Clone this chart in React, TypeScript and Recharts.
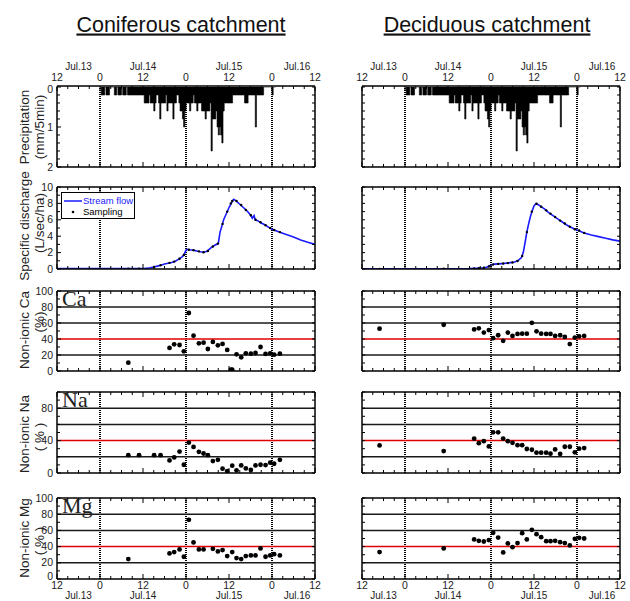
import React from "react";
import {
  ComposedChart,
  Area,
  Line,
  Scatter,
  XAxis,
  YAxis,
  ReferenceLine,
  Legend,
} from "recharts";

// time axis: hours after Jul.14 0:00
const hourTicks = [-12, -9, -6, -3, 0, 3, 6, 9, 12, 15, 18, 21, 24, 27, 30, 33, 36, 39, 42, 45, 48, 51, 54, 57, 60];
const dayTicks = [-6, 12, 36, 55];
const dayLabels = ["Jul.13", "Jul.14", "Jul.15", "Jul.16"];

// precipitation (mm/5min), 20-minute steps from Jul.14 0:00, 3 per hour
const rain = [
  0, 0.2, 0.2, 0.2, 0, 0.2, 0.2, 0.2, 0, 0, 0, 0,
  0.2, 0.2, 0, 0.2, 0.2, 0.2, 0, 0.2, 0.2, 0.2, 0, 0.2,
  0.2, 0.2, 0.2, 0.2, 0.2, 0.2, 0.2, 0.2, 0.2, 0.2, 0.2, 0.2,
  0.2, 0.4, 0.4, 0.4, 0.4, 0.2, 0.4, 0.4, 0.4, 0.6, 0.4, 0.2,
  0.2, 0.4, 0.8, 0.4, 0.4, 0.4, 0.4, 0.2, 0.6, 0.4, 0.4, 0.4,
  0.4, 0.8, 0.4, 0.4, 0.2, 0.2, 0.4, 0.6, 0.6, 0.8, 1.0, 0.6,
  0.4, 0.4, 0.4, 0.6, 0.4, 0.4, 0.2, 0.4, 0.4, 0.6, 0.4, 0.4,
  0.4, 0.6, 0.6, 0.6, 0.8, 0.6, 0.6, 0.6, 0.4, 1.6, 0.8, 0.8,
  0.8, 0.6, 1.0, 1.2, 1.0, 1.2, 1.4, 0.6, 0.4, 0.4, 0.4, 0.4,
  0.4, 0.4, 0.4, 0.2, 0.2, 0.2, 0.2, 0.2, 0.2, 0.2, 0.2, 0.2,
  0.2, 0.4, 0.4, 0.4, 0.2, 0.2, 0.2, 0.2, 0.2, 0.2, 1.0, 0.2,
  0.2, 0.2, 0.2, 0.2, 0.2, 0, 0, 0, 0, 0, 0, 0,
  0.2, 0, 0,
];

// specific discharge (L/sec/ha)
const conFlowHours = [-12, 0, 6, 12, 13, 14, 15, 16, 17, 18, 19, 20, 21, 22, 23, 23.5, 24, 24.5, 25, 26, 27, 28, 29, 30, 31, 32, 33, 33.5, 34, 34.5, 35, 36, 37, 37.3, 38, 39, 40, 41, 42, 42.5, 43, 43.3, 44, 45, 46, 47, 48, 50, 52, 54, 56, 58, 60];
const conFlow = [0.05, 0.05, 0.05, 0.05, 0.1, 0.15, 0.25, 0.35, 0.45, 0.6, 0.7, 0.8, 0.95, 1.2, 1.5, 1.8, 2.3, 2.4, 2.35, 2.3, 2.2, 2.1, 2.05, 2.2, 2.6, 2.9, 3.1, 4.5, 5.2, 6.0, 6.5, 7.5, 8.3, 8.5, 8.3, 7.9, 7.5, 7.1, 6.6, 6.2, 6.5, 6.0, 5.9, 5.6, 5.4, 5.1, 4.85, 4.5, 4.2, 3.9, 3.55, 3.25, 3.0];
const decFlowHours = [-12, 18, 20, 22, 23, 24, 25, 27, 29, 30.5, 31.5, 32.5, 33, 33.5, 34, 34.5, 35, 35.5, 36, 36.5, 37, 38, 39, 40, 41, 42, 43, 44, 45, 46, 47, 48, 50, 52, 54, 56, 58, 60];
const decFlow = [0.02, 0.05, 0.1, 0.15, 0.25, 0.5, 0.6, 0.65, 0.75, 0.85, 1.0, 1.4, 2.0, 3.2, 4.5, 5.5, 6.4, 7.1, 7.7, 7.95, 7.9, 7.6, 7.3, 6.9, 6.6, 6.3, 6.0, 5.7, 5.4, 5.15, 4.95, 4.75, 4.4, 4.15, 3.95, 3.75, 3.55, 3.4];

// water sampling, coniferous catchment
const conSampleHours = [7.9, 10.9, 15.1, 16.9, 19.4, 20.7, 22.2, 23.4, 24.8, 26.1, 27.6, 28.9, 30.1, 31.5, 32.9, 34.2, 35.5, 36.5, 36.9, 38.1, 39.4, 40.7, 42.1, 43.4, 44.8, 46.2, 47.5, 48.6, 50.2];
const conSampleFlow = [0.05, 0.05, 0.25, 0.45, 0.75, 0.9, 1.25, 1.7, 2.35, 2.3, 2.15, 2.05, 2.2, 2.75, 3.1, 5.5, 7.0, 8.0, 8.3, 8.3, 7.8, 7.2, 6.55, 6.0, 5.7, 5.35, 5.0, 4.75, 4.5];
const conCa = [10.4, null, null, null, 28.8, 33.3, 32.5, 24.6, 72.5, 44.2, 34.6, 35.4, 27.5, 36.3, 32.1, 33.8, 26.3, 1.7, 1.7, 20.8, 17.1, 22.1, 21.7, 22.5, 30, 21.3, 22.1, 20.4, 21.7];
const conNa = [22, 22, 22, 22, 15.5, 19.2, 26.5, 10.2, 37.6, 32.2, 26.1, 24.1, 22, 14.7, 16.3, 5.3, 2.4, null, 9, 3.3, 9.4, 5.7, 3.7, 9.4, 10.2, 9.8, 12.7, 11.4, 16.3];
const conMg = [24.6, null, null, null, 31.6, 33.2, 36.5, 27.5, 73, 45.1, 36.5, 36.5, null, 37.3, 34, 35.7, 28.3, null, 33.2, 25.8, 24.6, 28.3, 29.1, 29.1, 37.7, 27.5, 29.1, 30.7, 29.1];

// water sampling, deciduous catchment
const decSampleHours = [-7.1, 10.8, 19.3, 20.6, 22, 23.4, 24.6, 26, 27.4, 28.7, 30, 31.4, 32.7, 34, 35.4, 36.7, 38, 39.4, 40.6, 41.9, 43.3, 44.6, 46, 47.4, 48.6, 50];
const decSampleFlow = [0.02, 0.03, 0.08, 0.1, 0.15, 0.3, 0.55, 0.62, 0.67, 0.72, 0.8, 0.98, 1.6, 4.5, 7.0, 7.95, 7.6, 7.15, 6.75, 6.35, 5.9, 5.55, 5.15, 4.85, 4.7, 4.4];
const decCa = [52.9, 57.8, 52, 53.3, 48, 51.2, 41, 44.7, 37.7, 48, 43.9, 46.3, 46.7, 46.7, 60.2, 49.6, 46.7, 46.3, 46.3, 43.9, 44.7, 42.6, 33.6, 41.8, 43.4, 43.9];
const decNa = [34, 27.1, 42.5, 36.8, 39.3, 32.8, 50.2, 50.2, 42.5, 39.3, 37.2, 34.4, 34.4, 29.6, 28.7, 25.1, 25.1, 25.1, 23.9, 29.1, 23.5, 32.4, 32.4, 25.5, 30, 30.8];
const decMg = [33.2, 37.7, 48.8, 47.1, 46.3, 48, 57, 51.2, 32.8, 43.9, 39.3, 44.3, 56.6, 48.8, 60.7, 55.3, 51.6, 46.7, 46.7, 47.1, 45.5, 44.3, 41.4, 49.6, 50.8, 50];

// each 20-min step starts at i/3 h; a closing 0 ends the last step
const rainData = [...rain, 0].map((p, i) => ({ h: i / 3, p }));
const pairs = (hours: number[], vals: (number | null)[]) =>
  hours.map((h, i) => ({ h, v: vals[i] })).filter((d) => d.v != null);

const FONT = "'Liberation Sans', Arial, sans-serif";
const PLOT_W = 258;
const PAD = { top: 30, right: 10, bottom: 25, left: 30 };
const COLS = [57, 362];
const ROWS = {
  rain: { top: 87, h: 80 },
  flow: { top: 187, h: 82 },
  ca: { top: 291, h: 80 },
  na: { top: 392, h: 81 },
  mg: { top: 498, h: 81 },
};

const XTick = (p: any) => {
  const { x, y, payload, side, labels } = p;
  const h = payload.value;
  const major = h % 12 === 0;
  const d = side === "bottom" ? -1 : 1;
  return (
    <g>
      <line x1={x} x2={x} y1={y} y2={y + d * (major ? 5 : 3)} stroke="#000" strokeWidth={1} />
      {labels && major && (
        <text x={x} y={side === "bottom" ? y + 9.5 : y - 5} textAnchor="middle" fontSize={10.5} fontFamily={FONT} fill="#222">
          {h % 24 === 0 ? "0" : "12"}
        </text>
      )}
    </g>
  );
};

const DayTick = (p: any) => {
  const { x, y, payload, side } = p;
  return (
    <text x={x} y={side === "bottom" ? y + 18.5 : y - 17.5} textAnchor="middle" fontSize={10} fontFamily={FONT} fill="#222">
      {dayLabels[dayTicks.indexOf(payload.value)]}
    </text>
  );
};

// corner labels ("0" next to the hour labels) are nudged away from them
const YTick = (p: any) => {
  const { x, y, payload, side, labels, corner } = p;
  const d = side === "left" ? 1 : -1;
  const lab = labels && labels.includes(payload.value);
  let dy = 3.5;
  if (corner === "top" && payload.value === 0) dy = 5.5;
  if (corner === "bottom" && payload.value === 0) dy = 0.5;
  return (
    <g>
      <line x1={x} x2={x + d * (lab ? 4 : 3)} y1={y} y2={y} stroke="#000" strokeWidth={1} />
      {lab && (
        <text x={x - 4} y={y + dy} textAnchor="end" fontSize={10.5} fontFamily={FONT} fill="#222">
          {payload.value}
        </text>
      )}
    </g>
  );
};

type FrameOpts = {
  domain: [number, number];
  ticks: number[];
  labels: number[] | null;
  reversed?: boolean;
  top?: boolean;
  bottom?: boolean;
};

const axisLine = { stroke: "#000", strokeWidth: 1.5 };

// every axis gets a 1px box (Recharts skips axes of size 0)
function frame(o: FrameOpts) {
  const corner = o.top ? "top" : o.bottom ? "bottom" : null;
  const els: any[] = [
    <XAxis key="xb" xAxisId="b" type="number" dataKey="h" domain={[-12, 60]} allowDataOverflow ticks={hourTicks} interval={0} height={1} tickSize={0} tickMargin={0} tickLine={false} axisLine={axisLine} tick={(p: any) => <XTick {...p} side="bottom" labels={o.bottom} />} />,
    <XAxis key="xt" xAxisId="t" orientation="top" type="number" dataKey="h" domain={[-12, 60]} allowDataOverflow ticks={hourTicks} interval={0} height={1} tickSize={0} tickMargin={0} tickLine={false} axisLine={axisLine} tick={(p: any) => <XTick {...p} side="top" labels={o.top} />} />,
    <YAxis key="yl" yAxisId="l" type="number" domain={o.domain} reversed={o.reversed} allowDataOverflow ticks={o.ticks} interval={0} width={1} tickSize={0} tickMargin={0} tickLine={false} axisLine={axisLine} tick={(p: any) => <YTick {...p} side="left" labels={o.labels} corner={corner} />} />,
    <YAxis key="yr" yAxisId="r" orientation="right" type="number" domain={o.domain} reversed={o.reversed} allowDataOverflow ticks={o.ticks} interval={0} width={1} tickSize={0} tickMargin={0} tickLine={false} axisLine={axisLine} tick={(p: any) => <YTick {...p} side="right" labels={null} />} />,
  ];
  if (o.top)
    els.push(<XAxis key="dt" xAxisId="dt" orientation="top" type="number" dataKey="h" domain={[-12, 60]} allowDataOverflow ticks={dayTicks} interval={0} height={1} tickSize={0} tickMargin={0} tickLine={false} axisLine={false} tick={(p: any) => <DayTick {...p} side="top" />} />);
  if (o.bottom)
    els.push(<XAxis key="db" xAxisId="db" type="number" dataKey="h" domain={[-12, 60]} allowDataOverflow ticks={dayTicks} interval={0} height={1} tickSize={0} tickMargin={0} tickLine={false} axisLine={false} tick={(p: any) => <DayTick {...p} side="bottom" />} />);
  [0, 24, 48].forEach((h) =>
    els.push(<ReferenceLine key={"v" + h} xAxisId="b" yAxisId="l" x={h} stroke="#000" strokeWidth={2} strokeDasharray="1 1" />)
  );
  return els;
}

function grid() {
  return [
    ...[20, 60, 80].map((v) => (
      <ReferenceLine key={"g" + v} xAxisId="b" yAxisId="l" y={v} stroke="#1a1a1a" strokeWidth={1.5} />
    )),
    <ReferenceLine key="red" xAxisId="b" yAxisId="l" y={40} stroke="#e00000" strokeWidth={1.5} />,
  ];
}

const dot = (r: number) => (p: any) => <circle cx={p.cx} cy={p.cy} r={r} fill="#000" />;

function panel(key: string, col: number, row: { top: number; h: number }, children: any[], top: boolean, bottom: boolean, data?: any[]) {
  const nTop = top ? 2 : 1;
  const nBottom = bottom ? 2 : 1;
  const margin = { top: PAD.top - nTop, right: PAD.right - 1, bottom: PAD.bottom - nBottom, left: PAD.left - 1 };
  return (
    <div key={key} style={{ position: "absolute", left: COLS[col] - PAD.left, top: row.top - PAD.top }}>
      <ComposedChart width={PLOT_W + PAD.left + PAD.right} height={row.h + PAD.top + PAD.bottom} margin={margin} data={data}>
        {children}
      </ComposedChart>
    </div>
  );
}

const LegendBox = () => (
  <div style={{ width: 74, height: 27, boxSizing: "border-box", border: "1.5px solid #000", background: "#fff", fontFamily: FONT, fontSize: 9.5, lineHeight: "11px", padding: "2px 0 0 2px", whiteSpace: "nowrap" }}>
    <div style={{ display: "flex", alignItems: "center", color: "#1a1aff" }}>
      <svg width={19} height={8}><line x1={0} x2={18} y1={4} y2={4} stroke="#1a1aff" strokeWidth={1.5} /></svg>
      <span>Stream flow</span>
    </div>
    <div style={{ display: "flex", alignItems: "center", color: "#000" }}>
      <svg width={19} height={8}><circle cx={9} cy={4} r={1.3} fill="#000" /></svg>
      <span>Sampling</span>
    </div>
  </div>
);

const chem = [
  { key: "ca", name: "Ca", con: conCa, dec: decCa, labels: [0, 20, 40, 60, 80, 100] },
  { key: "na", name: "Na", con: conNa, dec: decNa, labels: [0, 40, 80] },
  { key: "mg", name: "Mg", con: conMg, dec: decMg, labels: [0, 20, 40, 60, 80, 100] },
];
const pctTicks = [0, 10, 20, 30, 40, 50, 60, 70, 80, 90, 100];
const rainTicks = [0, 0.2, 0.4, 0.6, 0.8, 1, 1.2, 1.4, 1.6, 1.8, 2];
const flowTicks = [0, 1, 2, 3, 4, 5, 6, 7, 8, 9, 10];

const yTitles = [
  { a: "Precipitation", b: "(mm/5min)", ya: 127, yb: 127 },
  { a: "Specific discharge", b: "(L/sec/ha)", ya: 226, yb: 223 },
  { a: "Non-ionic Ca", b: "(%)", ya: 330, yb: 322 },
  { a: "Non-ionic Na", b: "( % )", ya: 434, yb: 437 },
  { a: "Non-ionic Mg", b: "( % )", ya: 538, yb: 541 },
];

export default function App() {
  const panels: any[] = [];
  [0, 1].forEach((col) => {
    const dec = col === 1;
    const hours = dec ? decSampleHours : conSampleHours;
    panels.push(
      panel("rain" + col, col, ROWS.rain, [
        ...frame({ domain: [0, 2], ticks: rainTicks, labels: col === 0 ? [0, 1, 2] : null, reversed: true, top: true }),
        <Area key="rain" xAxisId="b" yAxisId="l" dataKey="p" type="stepAfter" fill="#000" fillOpacity={1} stroke="#000" strokeWidth={0.6} isAnimationActive={false} />,
      ], true, false, rainData)
    );
    const flowChildren = [
      ...frame({ domain: [0, 10], ticks: flowTicks, labels: col === 0 ? [0, 2, 4, 6, 8, 10] : null }),
      <Line key="q" xAxisId="b" yAxisId="l" data={pairs(dec ? decFlowHours : conFlowHours, dec ? decFlow : conFlow)} dataKey="v" type="linear" stroke="#1a1aff" strokeWidth={1.6} dot={false} isAnimationActive={false} />,
      <Scatter key="s" xAxisId="b" yAxisId="l" data={pairs(hours, dec ? decSampleFlow : conSampleFlow)} dataKey="v" shape={dot(1.2)} isAnimationActive={false} />,
    ];
    if (col === 0)
      flowChildren.push(
        <Legend key="lg" layout="vertical" align="center" verticalAlign="middle" wrapperStyle={{ left: 61 - (COLS[0] - PAD.left), top: 192 - (ROWS.flow.top - PAD.top), width: 74, height: 27 }} content={() => <LegendBox />} />
      );
    panels.push(panel("flow" + col, col, ROWS.flow, flowChildren, false, false));
    chem.forEach((c, ci) => {
      panels.push(
        panel(c.key + col, col, (ROWS as any)[c.key], [
          ...frame({ domain: [0, 100], ticks: pctTicks, labels: col === 0 ? c.labels : null, bottom: ci === 2 }),
          ...grid(),
          <Scatter key="s" xAxisId="b" yAxisId="l" data={pairs(hours, dec ? c.dec : c.con)} dataKey="v" shape={dot(2.4)} isAnimationActive={false} />,
        ], false, ci === 2)
      );
    });
  });

  return (
    <div style={{ position: "absolute", left: 0, top: 0, width: 630, height: 601, background: "#fff" }}>
      <svg width={630} height={601} style={{ position: "absolute", left: 0, top: 0 }}>
        <text x={181} y={31.5} textAnchor="middle" fontSize={21.5} fontFamily={FONT} fill="#111" style={{ textDecoration: "underline" }}>Coniferous catchment</text>
        <text x={487} y={31.5} textAnchor="middle" fontSize={21.5} fontFamily={FONT} fill="#111" style={{ textDecoration: "underline" }}>Deciduous catchment</text>
        {yTitles.map((t) => (
          <g key={t.a} fontFamily={FONT} fontSize={13.5} fill="#222" textAnchor="middle">
            <text transform={`translate(24,${t.ya}) rotate(-90)`} dominantBaseline="central">{t.a}</text>
            <text transform={`translate(39,${t.yb}) rotate(-90)`} dominantBaseline="central">{t.b}</text>
          </g>
        ))}
      </svg>
      {panels}
      <svg width={630} height={601} style={{ position: "absolute", left: 0, top: 0, pointerEvents: "none" }}>
        {chem.map((c) => (
          <text key={c.key} x={COLS[0] + 5} y={(ROWS as any)[c.key].top + 15} fontSize={22} fontFamily="'Liberation Serif', 'Times New Roman', serif" fill="#222">{c.name}</text>
        ))}
      </svg>
    </div>
  );
}
